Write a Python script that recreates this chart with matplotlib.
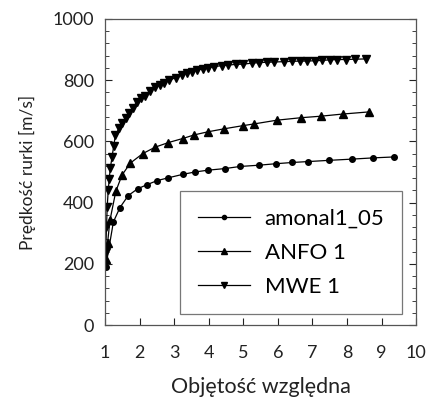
import matplotlib
matplotlib.use("Agg")
import matplotlib.pyplot as plt
from matplotlib.ticker import MultipleLocator

plt.rcParams['font.family'] = ['Lato', 'DejaVu Sans']

amonal_x = [1.02, 1.24, 1.43, 1.67, 1.94, 2.2, 2.51, 2.83, 3.24, 3.6, 3.99, 4.46,
            4.91, 5.44, 5.95, 6.42, 6.88, 7.49, 8.15, 8.76, 9.35]
amonal_y = [191, 337, 384, 423, 445, 458, 472, 481, 492, 500, 506, 511,
            518, 522, 527, 531, 534, 538, 542, 546, 549]

anfo_x = [1.02, 1.07, 1.14, 1.31, 1.49, 1.73, 2.09, 2.45, 2.83, 3.24, 3.58, 3.97,
          4.45, 4.98, 5.32, 5.97, 6.66, 7.24, 7.87, 8.63]
anfo_y = [215, 267, 342, 437, 490, 529, 560, 581, 596, 609, 621, 631,
          641, 651, 657, 669, 677, 682, 689, 696]

mwe_x = [1.02, 1.04, 1.06, 1.09, 1.12, 1.15, 1.2, 1.25, 1.3, 1.41, 1.5, 1.61, 1.7,
         1.8, 1.92, 2.04, 2.16, 2.3, 2.45, 2.59, 2.71, 2.86, 3.05, 3.22, 3.36,
         3.51, 3.65, 3.82, 3.99, 4.15, 4.38, 4.57, 4.78, 5.0, 5.24, 5.46, 5.68,
         5.89, 6.18, 6.4, 6.64, 6.83, 7.08, 7.27, 7.51, 7.72, 7.97, 8.23, 8.55]
mwe_y = [240, 320, 385, 440, 478, 512, 548, 586, 620, 645, 660, 675, 694,
         710, 729, 740, 749, 765, 776, 784, 792, 800, 808, 816, 823,
         827, 833, 836, 840, 844, 847, 849, 851, 852, 855, 857, 858,
         859, 860, 861, 862, 862, 863, 864, 866, 867, 867, 868, 869]

fig = plt.figure(figsize=(4.29, 4.08), dpi=100)
ax = fig.add_axes([0.245, 0.203, 0.725, 0.751])

ax.plot(amonal_x, amonal_y, color='black', lw=0.9, marker='o', ms=4, label='amonal1_05')
ax.plot(anfo_x, anfo_y, color='black', lw=0.9, marker='^', ms=5.5, label='ANFO 1')
ax.plot(mwe_x, mwe_y, color='black', lw=0.9, marker='v', ms=5.5, label='MWE 1')

ax.set_xlim(1, 10)
ax.set_ylim(0, 1000)
ax.xaxis.set_major_locator(MultipleLocator(1))
ax.yaxis.set_major_locator(MultipleLocator(200))
ax.yaxis.set_minor_locator(MultipleLocator(40))
ax.tick_params(axis='both', which='both', direction='in', labelsize=13, colors='#222222')
ax.tick_params(axis='y', which='both', right=True, pad=8)
ax.tick_params(axis='y', which='major', length=5)
ax.tick_params(axis='y', which='minor', length=3)
ax.tick_params(axis='x', which='major', length=5, pad=14)
for s in ax.spines.values():
    s.set_color('#555555')
    s.set_linewidth(0.9)

ax.set_xlabel('Objętość względna', fontsize=15.5, labelpad=12, color='#222222')
ax.set_ylabel('Prędkość rurki [m/s]', fontsize=12.5, labelpad=12, color='#222222')

leg = ax.legend(loc='lower right', bbox_to_anchor=(0.955, 0.035), fontsize=16,
                frameon=True, fancybox=False, edgecolor='#555555',
                handlelength=2.35, handletextpad=0.65, borderpad=0.8,
                labelspacing=0.62, borderaxespad=0, markerscale=0.75)
leg.get_frame().set_linewidth(0.9)

fig.savefig('out.png', dpi=100)
